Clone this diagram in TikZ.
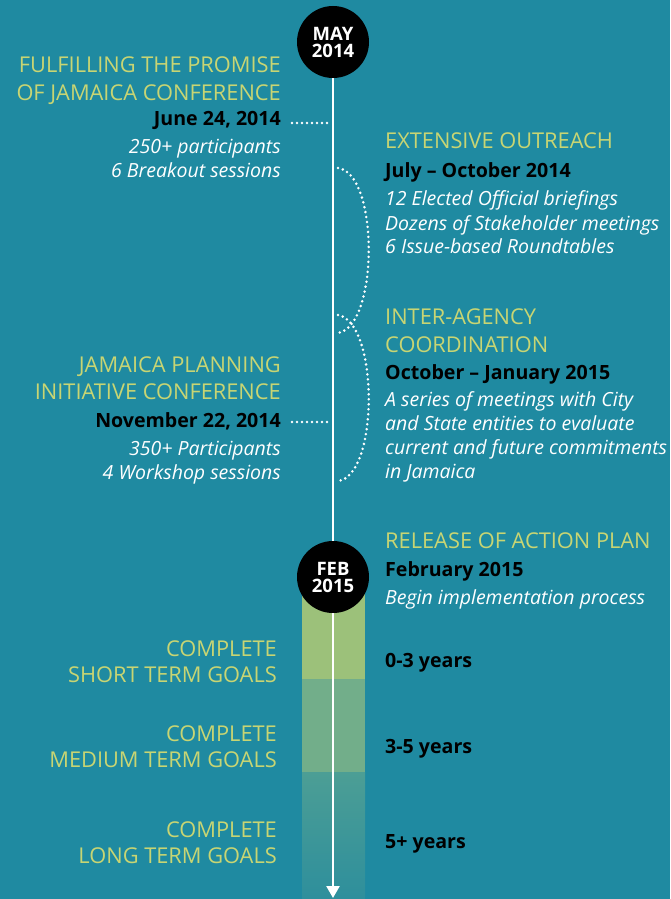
\documentclass[tikz,border=0pt]{standalone}
\usepackage{fontspec}
\setmainfont{Open Sans}
\usetikzlibrary{arrows.meta}
\definecolor{bg}{HTML}{1F8AA1}
\definecolor{ttl}{HTML}{C8D573}
\definecolor{gA}{HTML}{9CC17A}
\definecolor{gB}{HTML}{72AE8A}
\definecolor{gC}{HTML}{4C9E95}
\definecolor{gD}{HTML}{2E8F9C}
\tikzset{
  ttlL/.style={anchor=base east, text=ttl, font=\fontsize{21.8}{24}\selectfont, inner sep=0pt},
  ttlR/.style={anchor=base west, text=ttl, font=\fontsize{21.8}{24}\selectfont, inner sep=0pt},
  dateL/.style={anchor=base east, text=black, font=\fontsize{19.6}{21}\selectfont\bfseries, inner sep=0pt},
  dateR/.style={anchor=base west, text=black, font=\fontsize{19.6}{21}\selectfont\bfseries, inner sep=0pt},
  itL/.style={anchor=base east, text=white, font=\fontsize{19.5}{21}\selectfont\itshape, inner sep=0pt},
  itR/.style={anchor=base west, text=white, font=\fontsize{19.5}{21}\selectfont\itshape, inner sep=0pt},
  milestone/.style={circle, fill=black, minimum size=72pt, inner sep=0pt, text=white, align=center, font=\fontsize{18.5}{19}\selectfont\bfseries},
  dots/.style={white, line width=2.8pt, line cap=round, dash pattern=on 0pt off 5pt}
}
\begin{document}
\begin{tikzpicture}[x=1pt,y=-1pt]
\fill[bg] (0,0) rectangle (670,899);
\useasboundingbox (0,0) rectangle (670,899);
% bars
\fill[gA] (302,590) rectangle (365,679);
\fill[gB] (302,679) rectangle (365,772);
\shade[top color=gC, bottom color=gD] (302,772) rectangle (365,899);
% coordinates
\coordinate (top) at (333,60);
\coordinate (end) at (333,898);
\draw[white, line width=2.4pt, -{Triangle[width=13pt,length=12pt]}] (top) -- (end);
\node[milestone] (may) at (333,42) {MAY\\[-2pt]2014};
\node[milestone] (feb) at (333,577) {FEB\\[-2pt]2015};
% dotted connectors
\coordinate (c1a) at (292,123);
\coordinate (c1b) at (331,123);
\coordinate (c2a) at (292,422);
\coordinate (c2b) at (331,422);
\draw[dots] (c1a) -- (c1b);
\draw[dots] (c2a) -- (c2b);
\coordinate (b1a) at (338,168);
\coordinate (b1b) at (338,333);
\coordinate (b2a) at (338,315);
\coordinate (b2b) at (338,481);
\draw[dots] (b1a) .. controls (379,173) and (379,326) .. (b1b);
\draw[dots] (b2a) .. controls (379,322) and (379,476) .. (b2b);
% left block 1
\node[ttlL] (f1) at (281,72) {FULFILLING THE PROMISE};
\node[ttlL] (f2) at (281,100) {OF JAMAICA CONFERENCE};
\node[dateL] (f3) at (281,125) {June 24, 2014};
\node[itL] (f4) at (281,153) {250+ participants};
\node[itL] (f5) at (281,177) {6 Breakout sessions};
% right block 1
\node[ttlR] (e1) at (385,148) {EXTENSIVE OUTREACH};
\node[dateR] (e2) at (385,177) {July – October 2014};
\node[itR] (e3) at (385,205) {12 Elected Official briefings};
\node[itR] (e4) at (385,230) {Dozens of Stakeholder meetings};
\node[itR] (e5) at (385,253) {6 Issue-based Roundtables};
% right block 2
\node[ttlR] (i1) at (385,324) {INTER-AGENCY};
\node[ttlR] (i2) at (385,352) {COORDINATION};
\node[dateR] (i3) at (385,379) {October – January 2015};
\node[itR] (i4) at (385,406) {A series of meetings with City};
\node[itR] (i5) at (385,430) {and State entities to evaluate};
\node[itR] (i6) at (385,454) {current and future commitments};
\node[itR] (i7) at (385,478) {in Jamaica};
% left block 2
\node[ttlL] (j1) at (281,372) {JAMAICA PLANNING};
\node[ttlL] (j2) at (281,399) {INITIATIVE CONFERENCE};
\node[dateL] (j3) at (281,427) {November 22, 2014};
\node[itL] (j4) at (281,455) {350+ Participants};
\node[itL] (j5) at (281,479) {4 Workshop sessions};
% release
\node[ttlR] (r1) at (385,548) {RELEASE OF ACTION PLAN};
\node[dateR] (r2) at (385,576) {February 2015};
\node[itR] (r3) at (385,604) {Begin implementation process};
% goals
\node[ttlL] (s1) at (277,656) {COMPLETE};
\node[ttlL] (s2) at (277,682) {SHORT TERM GOALS};
\node[dateR] (s3) at (385,667) {0-3 years};
\node[ttlL] (m1) at (277,741) {COMPLETE};
\node[ttlL] (m2) at (277,767) {MEDIUM TERM GOALS};
\node[dateR] (m3) at (385,753) {3-5 years};
\node[ttlL] (l1) at (277,837) {COMPLETE};
\node[ttlL] (l2) at (277,863) {LONG TERM GOALS};
\node[dateR] (l3) at (385,848) {5+ years};
\end{tikzpicture}
\end{document}
